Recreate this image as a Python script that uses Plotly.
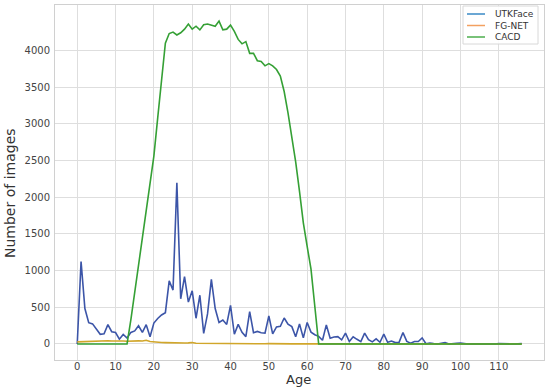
import plotly.graph_objects as go

ages = list(range(0, 117))

utk_counts = {
    0: 0, 1: 1123, 2: 482, 3: 289, 4: 273, 5: 196, 6: 131, 7: 139, 8: 263, 9: 166,
    10: 156, 11: 65, 12: 130, 13: 81, 14: 157, 15: 177, 16: 247, 17: 158, 18: 262, 19: 98,
    20: 284, 21: 346, 22: 395, 23: 426, 24: 859, 25: 734, 26: 2197, 27: 615, 28: 918, 29: 570,
    30: 724, 31: 350, 32: 664, 33: 143, 34: 409, 35: 880, 36: 483, 37: 293, 38: 325, 39: 266,
    40: 526, 41: 132, 42: 266, 43: 157, 44: 100, 45: 440, 46: 153, 47: 170, 48: 153, 49: 148,
    50: 381, 51: 138, 52: 232, 53: 241, 54: 353, 55: 268, 56: 236, 57: 97, 58: 271, 59: 82,
    60: 293, 61: 161, 62: 125, 63: 103, 64: 50, 65: 259, 66: 77, 67: 94, 68: 100, 69: 56,
    70: 147, 71: 33, 72: 98, 73: 63, 74: 32, 75: 148, 76: 58, 77: 28, 78: 69, 79: 23,
    80: 133, 81: 22, 82: 40, 83: 18, 84: 24, 85: 155, 86: 35, 87: 10, 88: 34, 89: 33,
    90: 82, 91: 2, 92: 13, 93: 5, 95: 9, 96: 17, 99: 9, 100: 11, 101: 2, 103: 1,
    105: 5, 110: 5, 111: 1, 115: 3, 116: 4,
}

fgnet_counts = {
    0: 28, 1: 30, 2: 38, 3: 42, 4: 45, 5: 44, 6: 43, 7: 42, 8: 44, 9: 40,
    10: 43, 11: 37, 12: 40, 13: 36, 14: 40, 15: 38, 16: 42, 17: 39, 18: 50, 19: 32,
    20: 25, 21: 22, 22: 20, 23: 18, 24: 15, 25: 18, 26: 14, 27: 13, 28: 12, 29: 15,
    30: 20, 31: 10, 32: 9, 33: 8, 34: 9, 35: 8, 36: 7, 37: 6, 38: 7, 39: 8,
    40: 10, 41: 6, 42: 5, 43: 5, 44: 4, 45: 5, 46: 4, 47: 3, 48: 3, 49: 2,
    50: 4, 51: 2, 52: 3, 53: 2, 54: 2, 55: 3, 56: 1, 57: 2, 58: 1, 59: 1,
    60: 2, 61: 1, 62: 1, 63: 1, 64: 1, 65: 1, 66: 1, 67: 1, 68: 1, 69: 1,
}

cacd_counts = {
    13: 0, 14: 330, 15: 700, 16: 1050, 17: 1400, 18: 1750, 19: 2130,
    20: 2560, 21: 3080, 22: 3630, 23: 4100, 24: 4230, 25: 4250, 26: 4210, 27: 4240,
    28: 4290, 29: 4360, 30: 4290, 31: 4330, 32: 4280, 33: 4350, 34: 4360, 35: 4340,
    36: 4330, 37: 4400, 38: 4280, 39: 4290, 40: 4345, 41: 4260, 42: 4150, 43: 4090,
    44: 4120, 45: 3960, 46: 3960, 47: 3860, 48: 3850, 49: 3790, 50: 3820, 51: 3790,
    52: 3740, 53: 3650, 54: 3440, 55: 3150, 56: 2820, 57: 2480, 58: 2080, 59: 1650,
    60: 1330, 61: 1020, 62: 510, 63: 0,
}

series_names = ["UTKFace", "FG-NET", "CACD"]
utk = [utk_counts.get(a, 0) for a in ages]
fgnet = [fgnet_counts.get(a, 0) for a in ages]
cacd = [cacd_counts.get(a, 0) for a in ages]

x_ticks = list(range(0, 111, 10))
y_ticks = list(range(0, 4001, 500))

# ---- styling / layout ----
W, H = 550, 388
ML, MR, MT, MB = 55, 6, 5, 28
PW, PH = W - ML - MR, H - MT - MB

def px(xp):
    return (xp - ML) / PW

def py(yp):
    return (H - MB - yp) / PH

line_cols = ["#3c55a8", "#d1a62a", "#35a035"]
legend_cols = ["#3a8ac6", "#f3a060", "#4cae4c"]
grid_col = "#dedede"

fig = go.Figure()
for name, vals, col in zip(series_names, [utk, fgnet, cacd], line_cols):
    fig.add_trace(go.Scatter(x=ages, y=vals, mode="lines", name=name, showlegend=False,
                             line=dict(color=col, width=1.6)))

shapes = [dict(type="rect", xref="paper", yref="paper",
               x0=px(463), x1=px(538), y0=py(44), y1=py(6),
               line=dict(color="#d8d8d8", width=1), fillcolor="rgba(255,255,255,0.9)",
               layer="above")]
annotations = []
for i, (name, col) in enumerate(zip(series_names, legend_cols)):
    yy = 14 + i * 11.5
    shapes.append(dict(type="line", xref="paper", yref="paper",
                       x0=px(467), x1=px(485), y0=py(yy), y1=py(yy),
                       line=dict(color=col, width=1.5), layer="above"))
    annotations.append(dict(text=name, xref="paper", yref="paper", x=px(493), y=py(yy),
                            xanchor="left", yanchor="middle", showarrow=False,
                            font=dict(size=9, color="#333333")))

annotations.append(dict(text="Age", xref="paper", yref="paper", x=px(298), y=py(379),
                        xanchor="center", yanchor="middle", showarrow=False,
                        font=dict(size=13, color="#333333")))
annotations.append(dict(text="Number of images", xref="paper", yref="paper", x=px(10), y=py(193),
                        xanchor="center", yanchor="middle", showarrow=False, textangle=-90,
                        font=dict(size=14, color="#333333")))

fig.update_layout(
    width=W, height=H,
    margin=dict(l=ML, r=MR, t=MT, b=MB, autoexpand=False),
    paper_bgcolor="white", plot_bgcolor="white",
    font=dict(family="DejaVu Sans", size=10, color="#444444"),
    showlegend=False,
    shapes=shapes, annotations=annotations,
    xaxis=dict(range=[-5.8, 121.8], tickvals=x_ticks, showgrid=True, gridcolor=grid_col,
               gridwidth=1, zeroline=False, showline=True, linecolor="#d0d0d0", mirror=True,
               ticks="", tickfont=dict(size=10, color="#444444"), automargin=False,
               ticklabelstandoff=-3),
    yaxis=dict(range=[-219, 4619], tickvals=y_ticks, showgrid=True, gridcolor=grid_col,
               gridwidth=1, zeroline=False, showline=True, linecolor="#d0d0d0", mirror=True,
               ticks="", tickfont=dict(size=10, color="#444444"), automargin=False,
               ticklabelstandoff=2),
)

fig.write_html("out.html", config={"displayModeBar": False},
               post_script="document.body.style.margin='0px';document.body.style.overflow='hidden';")
